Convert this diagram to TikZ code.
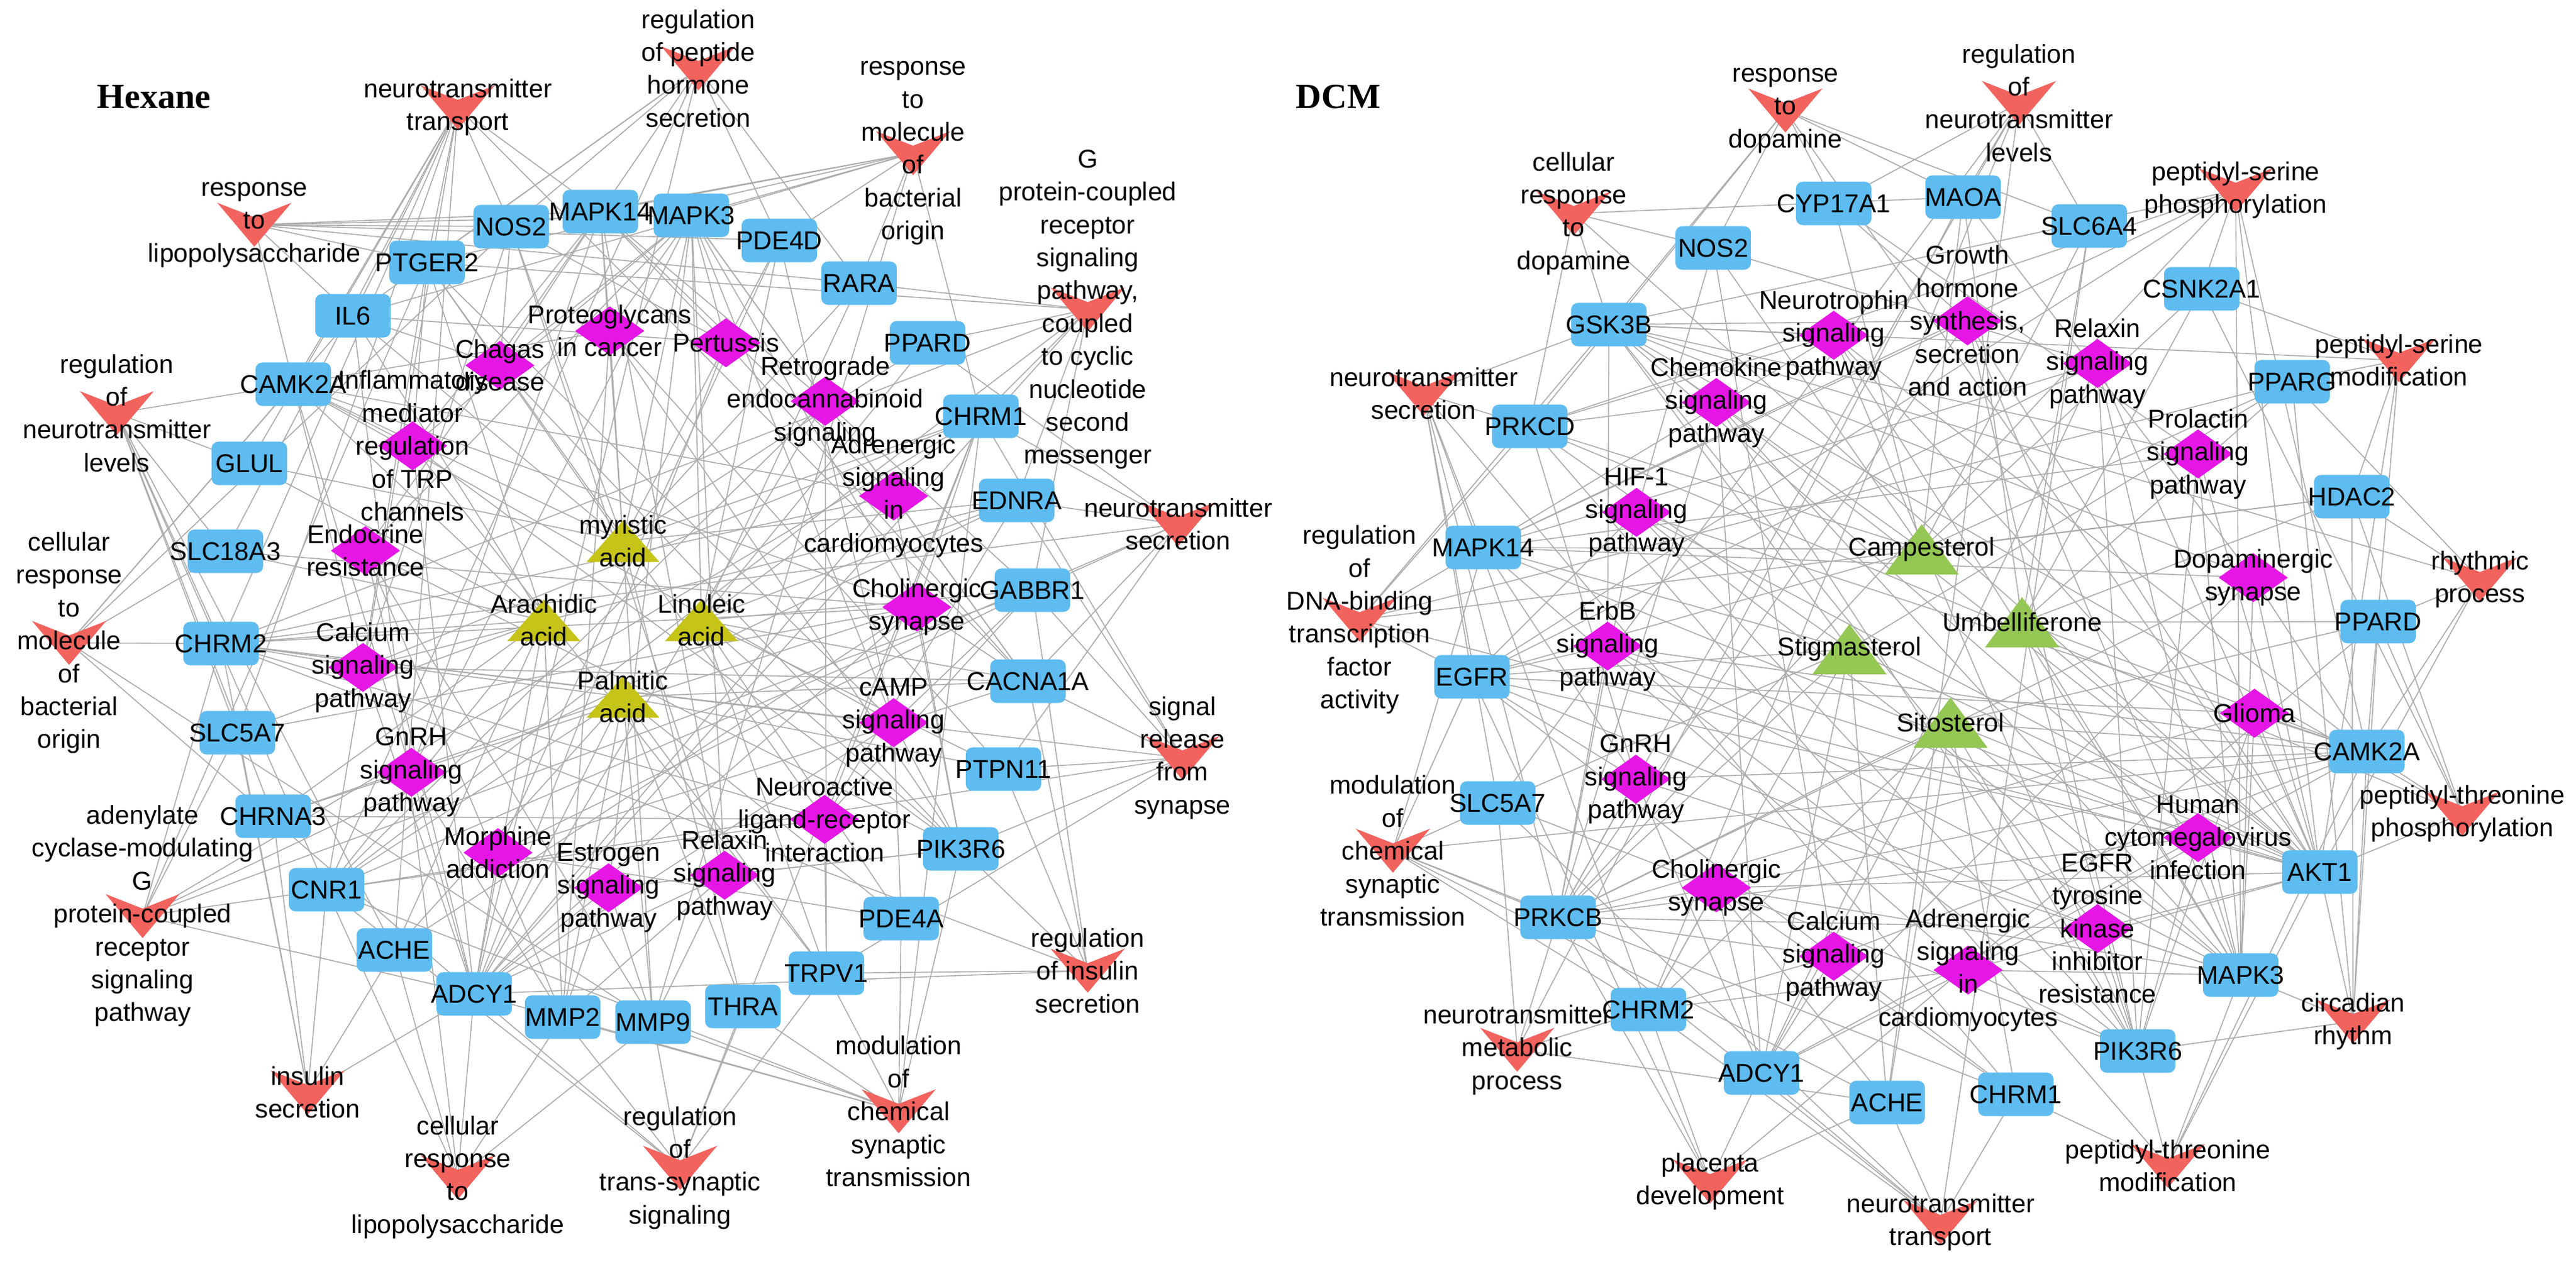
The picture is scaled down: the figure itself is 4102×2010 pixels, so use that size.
\documentclass[tikz,border=0pt]{standalone}
\usepackage{fontspec}
\setmainfont{Liberation Sans}
\newfontfamily\ttlfont{Liberation Serif}
\usetikzlibrary{calc,backgrounds}

\definecolor{genecol}{RGB}{94,188,240}
\definecolor{pwcol}{RGB}{230,22,230}
\definecolor{gocol}{RGB}{242,99,94}
\definecolor{cpdAcol}{RGB}{198,196,24}
\definecolor{cpdBcol}{RGB}{148,199,84}
\definecolor{linkcol}{RGB}{172,172,172}

\tikzset{
  gene/.style={rectangle,rounded corners=3pt,fill=genecol,inner sep=0pt,minimum width=1.2cm,minimum height=0.69cm},
  pw/.style={rectangle,inner sep=0pt,minimum width=1.1cm,minimum height=0.78cm,
    path picture={\fill[pwcol] (path picture bounding box.north)--(path picture bounding box.east)
      --(path picture bounding box.south)--(path picture bounding box.west)--cycle;}},
  go/.style={rectangle,inner sep=0pt,minimum width=1.18cm,minimum height=0.7cm,
    path picture={\fill[gocol] (path picture bounding box.north west)
      --($(path picture bounding box.north)!0.33!(path picture bounding box.south)$)
      --(path picture bounding box.north east)--(path picture bounding box.south)--cycle;}},
  cpdA/.style={rectangle,inner sep=0pt,minimum width=1.16cm,minimum height=0.66cm,
    path picture={\fill[cpdAcol] (path picture bounding box.south west)--(path picture bounding box.north)
      --(path picture bounding box.south east)--cycle;}},
  cpdB/.style={rectangle,inner sep=0pt,minimum width=1.18cm,minimum height=0.8cm,
    path picture={\fill[cpdBcol] (path picture bounding box.south west)--(path picture bounding box.north)
      --(path picture bounding box.south east)--cycle;}},
  link/.style={draw=linkcol,line width=0.45pt},
  every label/.style={font=\fontsize{11.7}{14.9}\selectfont,align=center,inner sep=0pt},
  paneltitle/.style={font=\ttlfont\bfseries\fontsize{16}{19}\selectfont}
}

\begin{document}
\begin{tikzpicture}[x=0.01cm,y=-0.01cm]
  \useasboundingbox (0,0) rectangle (4102,2010);

  %Hexane
  \node[paneltitle] (hTitle) at (245,154) {Hexane};
  %GO
  \node[go,label={center:{neurotransmitter\\transport}}] (hTransport) at (729,171) {};
  \node[go,label={center:{regulation\\of peptide\\hormone\\secretion}}] (hPeptide) at (1112,109) {};
  \node[go,label={center:{response\\to\\molecule\\of\\bacterial\\origin}}] (hBact) at (1454,244) {};
  \node[go,label={center:{response\\to\\lipopolysaccharide}}] (hLPS) at (405,358) {};
  \node[go,label={center:{G\\protein-coupled\\receptor\\signaling\\pathway,\\coupled\\to cyclic\\nucleotide\\second\\messenger}}] (hCyclic) at (1732,493) {};
  \node[go,label={center:{regulation\\of\\neurotransmitter\\levels}}] (hLevels) at (186,658) {};
  \node[go,label={center:{neurotransmitter\\secretion}}] (hSecretion) at (1876,835) {};
  \node[go,label={center:{cellular\\response\\to\\molecule\\of\\bacterial\\origin}}] (hCellBact) at (110,1024) {};
  \node[go,label={center:{signal\\release\\from\\synapse}}] (hRelease) at (1883,1207) {};
  \node[go,label={center:{adenylate\\cyclase-modulating\\G\\protein-coupled\\receptor\\signaling\\pathway}}] (hAdenylate) at (227,1459) {};
  \node[go,label={center:{regulation\\of insulin\\secretion}}] (hRegInsulin) at (1732,1546) {};
  \node[go,label={center:{modulation\\of\\chemical\\synaptic\\transmission}}] (hModChem) at (1431,1770) {};
  \node[go,label={center:{insulin\\secretion}}] (hInsulin) at (490,1740) {};
  \node[go,label={center:{cellular\\response\\to\\lipopolysaccharide}}] (hCellLPS) at (729,1875) {};
  \node[go,label={center:{regulation\\of\\trans-synaptic\\signaling}}] (hTransSyn) at (1083,1860) {};
  %pathways
  \node[pw,label={center:{Proteoglycans\\in cancer}}] (hProteo) at (971,527) {};
  \node[pw,label={center:{Pertussis}}] (hPertussis) at (1156,546) {};
  \node[pw,label={center:{Chagas\\disease}}] (hChagas) at (796,582) {};
  \node[pw,label={center:{Inflammatory\\mediator\\regulation\\of TRP\\channels}}] (hTRP) at (657,710) {};
  \node[pw,label={center:{Retrograde\\endocannabinoid\\signaling}}] (hRetro) at (1314,639) {};
  \node[pw,label={center:{Adrenergic\\signaling\\in\\cardiomyocytes}}] (hAdrenergic) at (1423,790) {};
  \node[pw,label={center:{Endocrine\\resistance}}] (hEndocrine) at (582,877) {};
  \node[pw,label={center:{Cholinergic\\synapse}}] (hCholin) at (1460,967) {};
  \node[pw,label={center:{Calcium\\signaling\\pathway}}] (hCalcium) at (578,1063) {};
  \node[pw,label={center:{cAMP\\signaling\\pathway}}] (hcAMP) at (1423,1151) {};
  \node[pw,label={center:{GnRH\\signaling\\pathway}}] (hGnRH) at (655,1230) {};
  \node[pw,label={center:{Neuroactive\\ligand-receptor\\interaction}}] (hNeuro) at (1313,1305) {};
  \node[pw,label={center:{Morphine\\addiction}}] (hMorphine) at (793,1358) {};
  \node[pw,label={center:{Estrogen\\signaling\\pathway}}] (hEstrogen) at (969,1414) {};
  \node[pw,label={center:{Relaxin\\signaling\\pathway}}] (hRelaxin) at (1154,1394) {};
  %targets
  \node[gene,label={center:NOS2}] (hNOS2) at (814,361) {};
  \node[gene,label={center:MAPK14}] (hMAPK14) at (956,337) {};
  \node[gene,label={center:MAPK3}] (hMAPK3) at (1101,343) {};
  \node[gene,label={center:PDE4D}] (hPDE4D) at (1241,383) {};
  \node[gene,label={center:PTGER2}] (hPTGER2) at (680,418) {};
  \node[gene,label={center:RARA}] (hRARA) at (1368,451) {};
  \node[gene,label={center:IL6}] (hIL6) at (562,503) {};
  \node[gene,label={center:PPARD}] (hPPARD) at (1477,546) {};
  \node[gene,label={center:CAMK2A}] (hCAMK2A) at (467,612) {};
  \node[gene,label={center:CHRM1}] (hCHRM1) at (1562,663) {};
  \node[gene,label={center:GLUL}] (hGLUL) at (397,738) {};
  \node[gene,label={center:EDNRA}] (hEDNRA) at (1619,797) {};
  \node[gene,label={center:SLC18A3}] (hSLC18A3) at (359,878) {};
  \node[gene,label={center:GABBR1}] (hGABBR1) at (1644,940) {};
  \node[gene,label={center:CHRM2}] (hCHRM2) at (352,1025) {};
  \node[gene,label={center:CACNA1A}] (hCACNA1A) at (1637,1085) {};
  \node[gene,label={center:SLC5A7}] (hSLC5A7) at (378,1167) {};
  \node[gene,label={center:PTPN11}] (hPTPN11) at (1598,1225) {};
  \node[gene,label={center:CHRNA3}] (hCHRNA3) at (435,1300) {};
  \node[gene,label={center:PIK3R6}] (hPIK3R6) at (1530,1352) {};
  \node[gene,label={center:CNR1}] (hCNR1) at (520,1417) {};
  \node[gene,label={center:PDE4A}] (hPDE4A) at (1435,1463) {};
  \node[gene,label={center:ACHE}] (hACHE) at (628,1513) {};
  \node[gene,label={center:TRPV1}] (hTRPV1) at (1316,1550) {};
  \node[gene,label={center:ADCY1}] (hADCY1) at (755,1583) {};
  \node[gene,label={center:MMP2}] (hMMP2) at (896,1620) {};
  \node[gene,label={center:MMP9}] (hMMP9) at (1040,1628) {};
  \node[gene,label={center:THRA}] (hTHRA) at (1183,1603) {};
  %compounds
  \node[cpdA,label={center:{myristic\\acid}}] (hMyristic) at (992,862) {};
  \node[cpdA,label={center:{Arachidic\\acid}}] (hArachidic) at (866,988) {};
  \node[cpdA,label={center:{Linoleic\\acid}}] (hLinoleic) at (1117,988) {};
  \node[cpdA,label={center:{Palmitic\\acid}}] (hPalmitic) at (992,1110) {};

  %DCM
  \node[paneltitle] (dTitle) at (2131,154) {DCM};
  %GO
  \node[go,label={center:{response\\to\\dopamine}}] (dRespDop) at (2843,176) {};
  \node[go,label={center:{cellular\\response\\to\\dopamine}}] (dCellDop) at (2506,340) {};
  \node[go,label={center:{regulation\\of\\neurotransmitter\\levels}}] (dLevels) at (3215,164) {};
  \node[go,label={center:{peptidyl-serine\\phosphorylation}}] (dSerPhos) at (3560,303) {};
  \node[go,label={center:{neurotransmitter\\secretion}}] (dSecretion) at (2267,627) {};
  \node[go,label={center:{peptidyl-serine\\modification}}] (dSerMod) at (3820,574) {};
  \node[go,label={center:{regulation\\of\\DNA-binding\\transcription\\factor\\activity}}] (dDNA) at (2165,987) {};
  \node[go,label={center:{rhythmic\\process}}] (dRhythmic) at (3949,923) {};
  \node[go,label={center:{modulation\\of\\chemical\\synaptic\\transmission}}] (dModChem) at (2218,1355) {};
  \node[go,label={center:{peptidyl-threonine\\phosphorylation}}] (dThrPhos) at (3921,1296) {};
  \node[go,label={center:{circadian\\rhythm}}] (dCircadian) at (3747,1627) {};
  \node[go,label={center:{neurotransmitter\\metabolic\\process}}] (dMetabolic) at (2416,1672) {};
  \node[go,label={center:{placenta\\development}}] (dPlacenta) at (2723,1882) {};
  \node[go,label={center:{neurotransmitter\\transport}}] (dTransport) at (3090,1947) {};
  \node[go,label={center:{peptidyl-threonine\\modification}}] (dThrMod) at (3452,1857) {};
  %pathways
  \node[pw,label={center:{Neurotrophin\\signaling\\pathway}}] (dNeurotrophin) at (2920,534) {};
  \node[pw,label={center:{Growth\\hormone\\synthesis,\\secretion\\and action}}] (dGrowth) at (3133,511) {};
  \node[pw,label={center:{Chemokine\\signaling\\pathway}}] (dChemokine) at (2733,641) {};
  \node[pw,label={center:{Relaxin\\signaling\\pathway}}] (dRelaxin) at (3340,579) {};
  \node[pw,label={center:{Prolactin\\signaling\\pathway}}] (dProlactin) at (3500,723) {};
  \node[pw,label={center:{HIF-1\\signaling\\pathway}}] (dHIF) at (2606,816) {};
  \node[pw,label={center:{Dopaminergic\\synapse}}] (dDopamin) at (3588,920) {};
  \node[pw,label={center:{ErbB\\signaling\\pathway}}] (dErbB) at (2560,1029) {};
  \node[pw,label={center:{Glioma}}] (dGlioma) at (3590,1136) {};
  \node[pw,label={center:{GnRH\\signaling\\pathway}}] (dGnRH) at (2605,1241) {};
  \node[pw,label={center:{Human\\cytomegalovirus\\infection}}] (dCMV) at (3500,1334) {};
  \node[pw,label={center:{EGFR\\tyrosine\\kinase\\inhibitor\\resistance}}] (dEGFRTKI) at (3340,1479) {};
  \node[pw,label={center:{Cholinergic\\synapse}}] (dCholin) at (2733,1414) {};
  \node[pw,label={center:{Calcium\\signaling\\pathway}}] (dCalcium) at (2920,1523) {};
  \node[pw,label={center:{Adrenergic\\signaling\\in\\cardiomyocytes}}] (dAdrenergic) at (3134,1545) {};
  %targets
  \node[gene,label={center:CYP17A1}] (dCYP17A1) at (2920,324) {};
  \node[gene,label={center:MAOA}] (dMAOA) at (3126,314) {};
  \node[gene,label={center:SLC6A4}] (dSLC6A4) at (3327,360) {};
  \node[gene,label={center:NOS2}] (dNOS2) at (2728,395) {};
  \node[gene,label={center:GSK3B}] (dGSK3B) at (2562,517) {};
  \node[gene,label={center:CSNK2A1}] (dCSNK2A1) at (3506,460) {};
  \node[gene,label={center:PRKCD}] (dPRKCD) at (2436,679) {};
  \node[gene,label={center:PPARG}] (dPPARG) at (3650,608) {};
  \node[gene,label={center:MAPK14}] (dMAPK14) at (2362,872) {};
  \node[gene,label={center:HDAC2}] (dHDAC2) at (3745,791) {};
  \node[gene,label={center:EGFR}] (dEGFR) at (2344,1078) {};
  \node[gene,label={center:PPARD}] (dPPARD) at (3787,990) {};
  \node[gene,label={center:SLC5A7}] (dSLC5A7) at (2385,1279) {};
  \node[gene,label={center:CAMK2A}] (dCAMK2A) at (3769,1197) {};
  \node[gene,label={center:AKT1}] (dAKT1) at (3694,1389) {};
  \node[gene,label={center:PRKCB}] (dPRKCB) at (2481,1461) {};
  \node[gene,label={center:MAPK3}] (dMAPK3) at (3568,1553) {};
  \node[gene,label={center:CHRM2}] (dCHRM2) at (2625,1608) {};
  \node[gene,label={center:PIK3R6}] (dPIK3R6) at (3404,1674) {};
  \node[gene,label={center:ADCY1}] (dADCY1) at (2805,1709) {};
  \node[gene,label={center:ACHE}] (dACHE) at (3005,1756) {};
  \node[gene,label={center:CHRM1}] (dCHRM1) at (3210,1743) {};
  %compounds
  \node[cpdB,label={center:Campesterol}] (dCampesterol) at (3060,875) {};
  \node[cpdB,label={center:Stigmasterol}] (dStigmasterol) at (2945,1034) {};
  \node[cpdB,label={center:Umbelliferone}] (dUmbelliferone) at (3220,991) {};
  \node[cpdB,label={center:Sitosterol}] (dSitosterol) at (3106,1151) {};

  %links
  \begin{scope}[on background layer]
    \fill[white] (0,0) rectangle (4102,2010);
    \foreach \s/\ts in {
      hMyristic/{hNOS2,hMAPK14,hMAPK3,hPDE4D,hRARA,hPPARD,hIL6,hCAMK2A,hGLUL,hCHRM1,hEDNRA,hTHRA,hPTGER2},
      hArachidic/{hPTGER2,hCHRM2,hSLC5A7,hCHRNA3,hCNR1,hACHE,hSLC18A3,hADCY1,hMMP2,hGLUL,hIL6,hCAMK2A},
      hLinoleic/{hPPARD,hCHRM1,hGABBR1,hCACNA1A,hPTPN11,hPIK3R6,hPDE4A,hTRPV1,hRARA,hEDNRA,hMAPK3,hPDE4D},
      hPalmitic/{hADCY1,hMMP2,hMMP9,hTHRA,hTRPV1,hCNR1,hACHE,hPDE4A,hCHRM2,hCACNA1A,hPTPN11,hCHRNA3},
      hProteo/{hMAPK14,hMAPK3,hPTPN11,hMMP2,hMMP9,hCAMK2A,hPIK3R6},
      hPertussis/{hIL6,hMAPK14,hMAPK3,hNOS2,hCACNA1A,hADCY1},
      hChagas/{hIL6,hMAPK14,hMAPK3,hNOS2,hPIK3R6},
      hTRP/{hMAPK14,hMAPK3,hPTGER2,hCAMK2A,hADCY1,hTRPV1,hPIK3R6},
      hRetro/{hCNR1,hADCY1,hMAPK14,hMAPK3,hCACNA1A,hGABBR1,hTRPV1},
      hAdrenergic/{hCAMK2A,hADCY1,hMAPK14,hMAPK3,hCHRM2,hPIK3R6,hCACNA1A},
      hEndocrine/{hMAPK14,hMAPK3,hMMP2,hMMP9,hADCY1,hPIK3R6},
      hCholin/{hCHRM1,hCHRM2,hCHRNA3,hACHE,hSLC5A7,hSLC18A3,hCAMK2A,hADCY1,hMAPK3,hPIK3R6,hCACNA1A},
      hCalcium/{hCHRM1,hCHRM2,hCAMK2A,hADCY1,hEDNRA,hPTGER2,hNOS2,hCACNA1A},
      hcAMP/{hADCY1,hCAMK2A,hPDE4A,hPDE4D,hPTGER2,hGABBR1,hCHRM2,hMAPK3,hPIK3R6},
      hGnRH/{hADCY1,hCAMK2A,hMAPK14,hMAPK3,hMMP2},
      hNeuro/{hCHRM1,hCHRM2,hCHRNA3,hCNR1,hEDNRA,hGABBR1,hPTGER2,hTRPV1},
      hMorphine/{hADCY1,hGABBR1,hPDE4A,hPDE4D,hCACNA1A},
      hEstrogen/{hADCY1,hMMP2,hMMP9,hMAPK3,hPIK3R6},
      hRelaxin/{hADCY1,hMAPK14,hMAPK3,hMMP2,hMMP9,hNOS2,hPIK3R6},
      hTransport/{hIL6,hCAMK2A,hGLUL,hSLC18A3,hSLC5A7,hCHRM2,hCNR1,hACHE,hNOS2,hPTGER2,hCACNA1A,hMAPK14},
      hPeptide/{hIL6,hPTGER2,hCNR1,hADCY1,hMAPK14,hPDE4D,hRARA,hNOS2},
      hBact/{hIL6,hNOS2,hMAPK14,hMAPK3,hPTGER2,hPDE4D,hMMP9,hCHRM1,hRARA},
      hLPS/{hNOS2,hMAPK14,hMAPK3,hPDE4D,hIL6,hPTGER2,hCAMK2A,hRARA},
      hCyclic/{hADCY1,hPTGER2,hCHRM1,hCHRM2,hGABBR1,hEDNRA,hCNR1,hRARA,hPPARD},
      hLevels/{hCAMK2A,hSLC18A3,hCHRM2,hSLC5A7,hCHRNA3,hCNR1,hGLUL,hACHE},
      hSecretion/{hCACNA1A,hPTPN11,hCHRM1,hEDNRA,hCNR1,hCHRM2,hGABBR1,hPPARD},
      hCellBact/{hIL6,hCAMK2A,hSLC18A3,hCHRM2,hMMP9,hADCY1,hNOS2},
      hRelease/{hCACNA1A,hPTPN11,hCHRM1,hCHRM2,hGABBR1,hCNR1,hTRPV1,hEDNRA,hPIK3R6},
      hAdenylate/{hCHRM2,hSLC5A7,hCNR1,hADCY1,hGABBR1,hPTGER2,hCHRM1,hEDNRA},
      hRegInsulin/{hCACNA1A,hPTPN11,hPIK3R6,hGABBR1,hCHRM2,hADCY1,hTRPV1},
      hModChem/{hTRPV1,hPDE4A,hPIK3R6,hCNR1,hMMP9,hADCY1,hCHRM1,hTHRA,hMMP2},
      hInsulin/{hCNR1,hCHRM2,hSLC5A7,hADCY1,hCHRNA3,hACHE},
      hCellLPS/{hADCY1,hMMP2,hCNR1,hIL6,hACHE,hMMP9},
      hTransSyn/{hMMP2,hMMP9,hTHRA,hTRPV1,hADCY1,hCNR1,hCHRM1},
      dCampesterol/{dNOS2,dGSK3B,dCYP17A1,dMAOA,dPPARG,dHDAC2,dCSNK2A1,dPRKCD,dMAPK14,dEGFR,dSLC6A4},
      dStigmasterol/{dEGFR,dSLC5A7,dPRKCB,dCHRM2,dADCY1,dACHE,dMAPK14,dPRKCD,dPPARG,dAKT1,dGSK3B},
      dUmbelliferone/{dPPARD,dHDAC2,dCAMK2A,dAKT1,dMAPK3,dPIK3R6,dSLC6A4,dCSNK2A1,dPPARG,dMAOA},
      dSitosterol/{dCHRM1,dACHE,dADCY1,dPIK3R6,dMAPK3,dAKT1,dCHRM2,dPRKCB,dCAMK2A,dPPARD},
      dNeurotrophin/{dGSK3B,dMAPK14,dMAPK3,dAKT1,dCAMK2A,dPIK3R6,dPRKCD},
      dGrowth/{dGSK3B,dMAPK14,dMAPK3,dAKT1,dPIK3R6,dPRKCB,dCYP17A1},
      dChemokine/{dGSK3B,dPRKCD,dPRKCB,dMAPK3,dAKT1,dPIK3R6,dADCY1},
      dRelaxin/{dNOS2,dMAPK14,dMAPK3,dAKT1,dEGFR,dADCY1,dPIK3R6},
      dProlactin/{dGSK3B,dMAPK14,dMAPK3,dAKT1,dPIK3R6,dCYP17A1},
      dHIF/{dNOS2,dEGFR,dAKT1,dMAPK3,dPRKCB,dPIK3R6,dCAMK2A},
      dDopamin/{dGSK3B,dMAOA,dCAMK2A,dAKT1,dMAPK14,dMAPK3,dPRKCB,dADCY1},
      dErbB/{dEGFR,dCAMK2A,dMAPK3,dAKT1,dPIK3R6,dPRKCB,dGSK3B},
      dGlioma/{dEGFR,dCAMK2A,dMAPK3,dAKT1,dPIK3R6,dPRKCB},
      dGnRH/{dEGFR,dCAMK2A,dMAPK14,dMAPK3,dPRKCB,dADCY1,dPRKCD},
      dCMV/{dGSK3B,dMAPK14,dMAPK3,dAKT1,dPIK3R6,dPRKCB,dADCY1,dEGFR},
      dEGFRTKI/{dEGFR,dGSK3B,dMAPK3,dAKT1,dPIK3R6,dPRKCB},
      dCholin/{dCHRM1,dCHRM2,dACHE,dSLC5A7,dCAMK2A,dADCY1,dMAPK3,dAKT1,dPIK3R6,dPRKCB},
      dCalcium/{dCHRM1,dCHRM2,dCAMK2A,dADCY1,dEGFR,dNOS2,dPRKCB},
      dAdrenergic/{dCAMK2A,dADCY1,dMAPK14,dMAPK3,dAKT1,dPIK3R6,dCHRM2},
      dRespDop/{dGSK3B,dNOS2,dCYP17A1,dMAOA,dSLC6A4,dAKT1,dPRKCD},
      dCellDop/{dGSK3B,dNOS2,dPRKCD,dMAOA,dAKT1},
      dLevels/{dMAOA,dSLC6A4,dCYP17A1,dCHRM2,dACHE,dSLC5A7,dPRKCB},
      dSerPhos/{dGSK3B,dCSNK2A1,dPRKCD,dPRKCB,dMAPK3,dAKT1,dCAMK2A,dEGFR,dMAPK14},
      dSecretion/{dGSK3B,dMAPK14,dEGFR,dSLC5A7,dPRKCB,dCHRM2,dCHRM1,dPRKCD},
      dSerMod/{dCSNK2A1,dPPARG,dHDAC2,dCAMK2A,dAKT1,dGSK3B},
      dDNA/{dPPARG,dHDAC2,dEGFR,dMAPK14,dGSK3B,dPRKCD,dAKT1},
      dRhythmic/{dPPARG,dHDAC2,dPPARD,dCAMK2A,dGSK3B,dAKT1},
      dModChem/{dSLC5A7,dPRKCB,dCHRM2,dEGFR,dACHE,dCHRM1,dMAPK14,dCAMK2A},
      dThrPhos/{dCAMK2A,dPPARD,dAKT1,dPRKCD,dGSK3B,dCSNK2A1,dHDAC2},
      dCircadian/{dAKT1,dMAPK3,dPPARD,dPPARG,dHDAC2,dPIK3R6,dCAMK2A},
      dMetabolic/{dCHRM2,dACHE,dMAOA,dSLC5A7,dPRKCB},
      dPlacenta/{dPRKCB,dCHRM2,dADCY1,dACHE,dPPARD,dEGFR},
      dTransport/{dADCY1,dACHE,dCHRM1,dSLC5A7,dSLC6A4,dCHRM2,dPRKCB},
      dThrMod/{dPIK3R6,dMAPK3,dAKT1,dCHRM1,dCAMK2A,dPRKCD}}
      \foreach \t in \ts {\draw[link] (\s.center) -- (\t.center);}
  \end{scope}
\end{tikzpicture}
\end{document}
